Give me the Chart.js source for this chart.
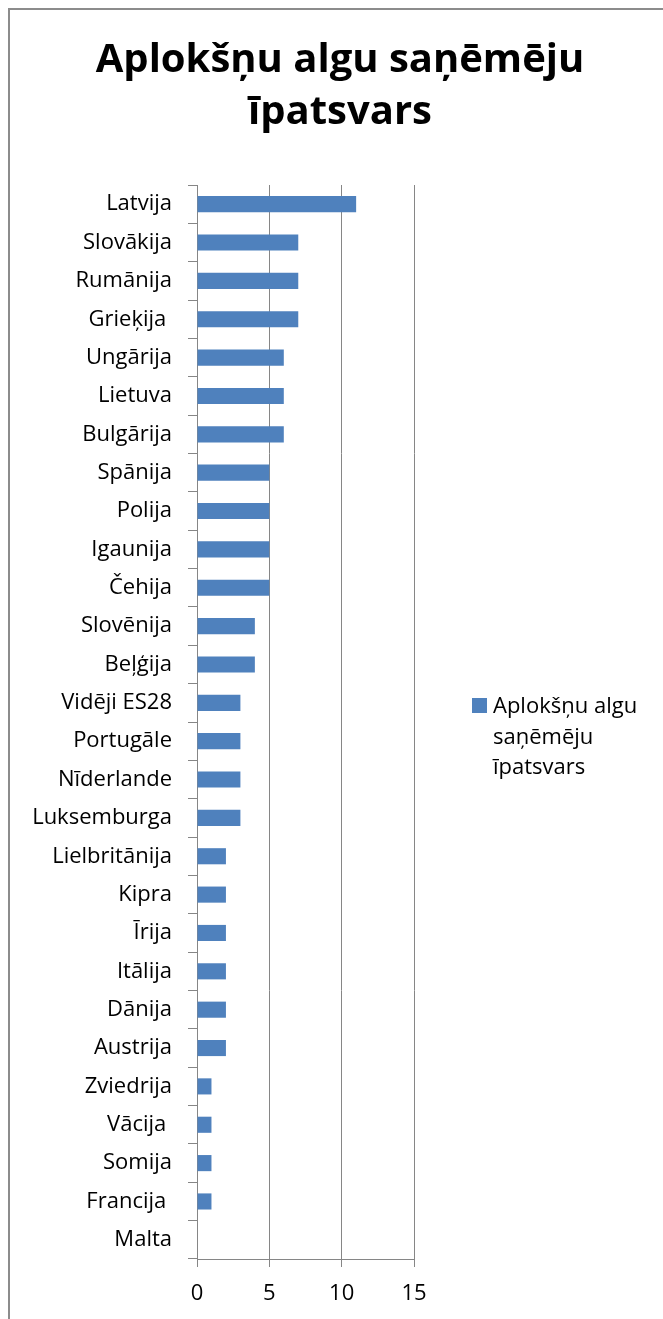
<!DOCTYPE html>
<html>
<head>
<meta charset="utf-8">
<title>Aplokšņu algu saņēmēju īpatsvars</title>
<script src="https://cdn.jsdelivr.net/npm/chart.js"></script>
<style>
    body { margin: 0; background: #fff; }
    canvas { display: block; }
</style>
</head>
<body>
<canvas id="chart" width="663" height="1319"></canvas>
<script>
const titleLines = ['Aplokšņu algu saņēmēju', 'īpatsvars'];
const seriesName = 'Aplokšņu algu saņēmēju īpatsvars';
const countries = [
    'Latvija', 'Slovākija', 'Rumānija', 'Grieķija ', 'Ungārija', 'Lietuva', 'Bulgārija',
    'Spānija', 'Polija', 'Igaunija', 'Čehija', 'Slovēnija', 'Beļģija', 'Vidēji ES28',
    'Portugāle', 'Nīderlande', 'Luksemburga', 'Lielbritānija', 'Kipra', 'Īrija', 'Itālija',
    'Dānija', 'Austrija', 'Zviedrija', 'Vācija ', 'Somija', 'Francija ', 'Malta'
];
const shares = [11, 7, 7, 7, 6, 6, 6, 5, 5, 5, 5, 4, 4, 3, 3, 3, 3, 2, 2, 2, 2, 2, 2, 1, 1, 1, 1, 0];
const axisMin = 0;
const axisMax = 15;
const axisStep = 5;

const barColor = '#4F81BD';
const lineColor = '#868686';
const fontFamily = '"Open Sans", Lato, sans-serif';

// white background + the chart box frame (only top and left edges show)
const framePlugin = {
    id: 'frame',
    beforeDraw(chart) {
        const ctx = chart.ctx;
        ctx.save();
        ctx.fillStyle = '#fff';
        ctx.fillRect(0, 0, chart.width, chart.height);
        ctx.strokeStyle = '#8c8c8c';
        ctx.lineWidth = 2;
        ctx.strokeRect(9, 9, chart.width + 20, chart.height + 20);
        ctx.restore();
    }
};

// title centred over the whole box, not over the plot
const boxTitle = {
    id: 'boxTitle',
    afterDraw(chart) {
        const ctx = chart.ctx;
        ctx.save();
        ctx.font = 'bold 40px ' + fontFamily;
        ctx.fillStyle = '#000';
        ctx.textAlign = 'center';
        ctx.textBaseline = 'alphabetic';
        titleLines.forEach((t, i) => ctx.fillText(t, 340, 72 + i * 52));
        ctx.restore();
    }
};

// legend on the right, series name wrapped over several lines
const sideLegend = {
    id: 'sideLegend',
    afterDraw(chart) {
        const ctx = chart.ctx;
        const ds = chart.data.datasets[0];
        ctx.save();
        ctx.font = '22px ' + fontFamily;
        const maxW = 165;
        const words = ds.label.split(' ');
        const lines = [];
        let cur = '';
        words.forEach(w => {
            const test = cur ? cur + ' ' + w : w;
            if (cur && ctx.measureText(test).width > maxW) { lines.push(cur); cur = w; }
            else cur = test;
        });
        if (cur) lines.push(cur);

        const x = chart.chartArea.right + 58;
        const y = 705;
        ctx.fillStyle = ds.backgroundColor;
        ctx.fillRect(x, y - 7, 15, 15);
        ctx.fillStyle = '#000';
        ctx.textBaseline = 'alphabetic';
        lines.forEach((l, i) => ctx.fillText(l, x + 21, y + 8 + i * 30.5));
        ctx.restore();
    }
};

new Chart(document.getElementById('chart'), {
    type: 'bar',
    data: {
        labels: countries,
        datasets: [{
            label: seriesName,
            data: shares,
            backgroundColor: barColor,
            categoryPercentage: 1,
            barPercentage: 0.42
        }]
    },
    options: {
        indexAxis: 'y',
        responsive: false,
        animation: false,
        devicePixelRatio: 1,
        layout: { padding: { left: 17, right: 249, top: 185, bottom: 0 } },
        plugins: {
            legend: { display: false },
            tooltip: { enabled: false },
            title: { display: false }
        },
        scales: {
            y: {
                offset: true,
                grid: { offset: true, drawOnChartArea: false, drawTicks: true, tickLength: 9, color: lineColor },
                border: { display: true, color: lineColor },
                ticks: { color: '#000', padding: 16, font: { family: fontFamily, size: 22 }, autoSkip: false },
                afterFit(scale) { scale.width = 180; }
            },
            x: {
                min: axisMin,
                max: axisMax,
                grid: { color: lineColor, tickLength: 8 },
                border: { display: true, color: lineColor },
                ticks: { stepSize: axisStep, color: '#000', padding: 14, font: { family: fontFamily, size: 22 } },
                afterFit(scale) { scale.height = 60; }
            }
        }
    },
    plugins: [framePlugin, boxTitle, sideLegend]
});
</script>
</body>
</html>
